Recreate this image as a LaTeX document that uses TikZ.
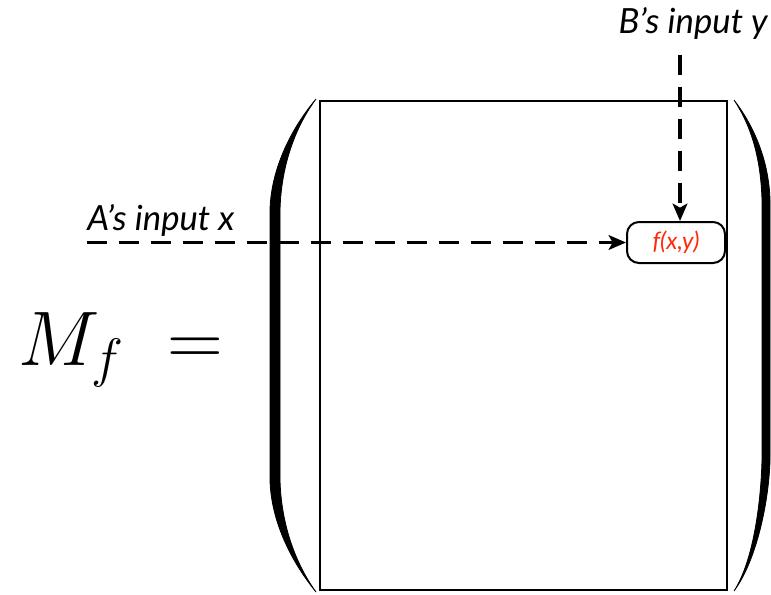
\documentclass[tikz,border=0pt]{standalone}
\usepackage{fix-cm}
\usepackage{fontspec}
\setmainfont{Lato}
\usetikzlibrary{arrows.meta,positioning}
\definecolor{fred}{HTML}{FF2A0A}

\begin{document}
\begin{tikzpicture}[x=0.75pt,y=-0.75pt,
    lbl/.style={font=\fontsize{26}{30}\selectfont\itshape,inner sep=0pt},
    arr/.style={-{Stealth[length=13pt,width=11pt,inset=3pt]},line width=2.6pt,dash pattern=on 15pt off 9pt},
    cell/.style={draw,line width=1.5pt,rounded corners=9pt,minimum width=73.5pt,minimum height=30.75pt,inner sep=0pt}]
  \useasboundingbox (0,0) rectangle (771,594);
  \clip (0,0) rectangle (771,594);
  % matrix body and brackets
  \draw[line width=1.5pt] (320,101) rectangle (727,590);
  \filldraw[line width=0.6pt] (316,99) .. controls (290,130) and (271,170) .. (270,210) -- (270,480)
       .. controls (271,520) and (290,560) .. (316,592)
       .. controls (293,560) and (281,520) .. (280,480) -- (280,210)
       .. controls (281,170) and (293,130) .. (316,99) -- cycle;
  \filldraw[line width=0.6pt] (734,100) .. controls (757,130) and (769,165) .. (770,200) -- (770,460)
       .. controls (769,500) and (757,560) .. (734,591)
       .. controls (754,560) and (761,500) .. (762,460) -- (762,200)
       .. controls (761,165) and (754,130) .. (734,100) -- cycle;
  \node[anchor=base west,inner sep=0pt,font=\fontsize{58}{64}\selectfont] (mf) at (18,365) {$M_f\; =$};
  % entry and inputs
  \node[cell] (fxy) at (676,242.5) {\fontsize{18}{20}\selectfont\itshape\color{fred}f(x,y)};
  \node[lbl,anchor=base west] (ainput) at (87,230) {A’s input x};
  \node[lbl,anchor=base east] (binput) at (768,33) {B’s input y};
  \coordinate (astart) at (87,242.5);
  \coordinate (bstart) at (680,55);
  \draw[arr] (astart) -- (fxy.west);
  \draw[arr] (bstart) -- (bstart |- fxy.north);
\end{tikzpicture}
\end{document}
